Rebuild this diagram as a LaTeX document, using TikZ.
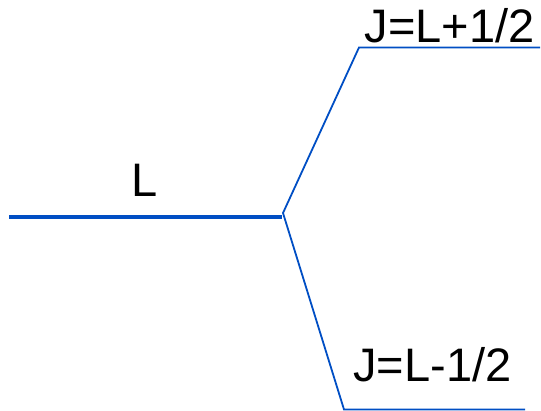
\documentclass[tikz,border=0pt]{standalone}
\usepackage{fontspec}
\setmainfont{Liberation Sans}
\definecolor{lvl}{RGB}{0,78,196}
\begin{document}
\begin{tikzpicture}[x=1pt,y=-1pt,
  level/.style={draw=lvl,line width=1.8pt,line join=miter},
  thick level/.style={draw=lvl,line width=4pt},
  lab/.style={anchor=base,inner sep=0pt,font=\fontsize{47}{50}\selectfont}]
\useasboundingbox (0,0) rectangle (541,411);
\coordinate (a) at (9,217.5);
\coordinate (b) at (282,217.5);
\coordinate (v) at (283,213);
\coordinate (u1) at (359,47.5);
\coordinate (u2) at (540,47.5);
\coordinate (d1) at (344,409.5);
\coordinate (d2) at (525,409.5);
\draw[thick level] (a) -- (b);
\draw[level] (u2) -- (u1) -- (v) -- (d1) -- (d2);
\node[lab] (l) at (145,197) {L};
\node[lab] (jp) at (449.5,43) {J=L+1/2};
\node[lab] (jm) at (432.5,382) {J=L-1/2};
\end{tikzpicture}
\end{document}
